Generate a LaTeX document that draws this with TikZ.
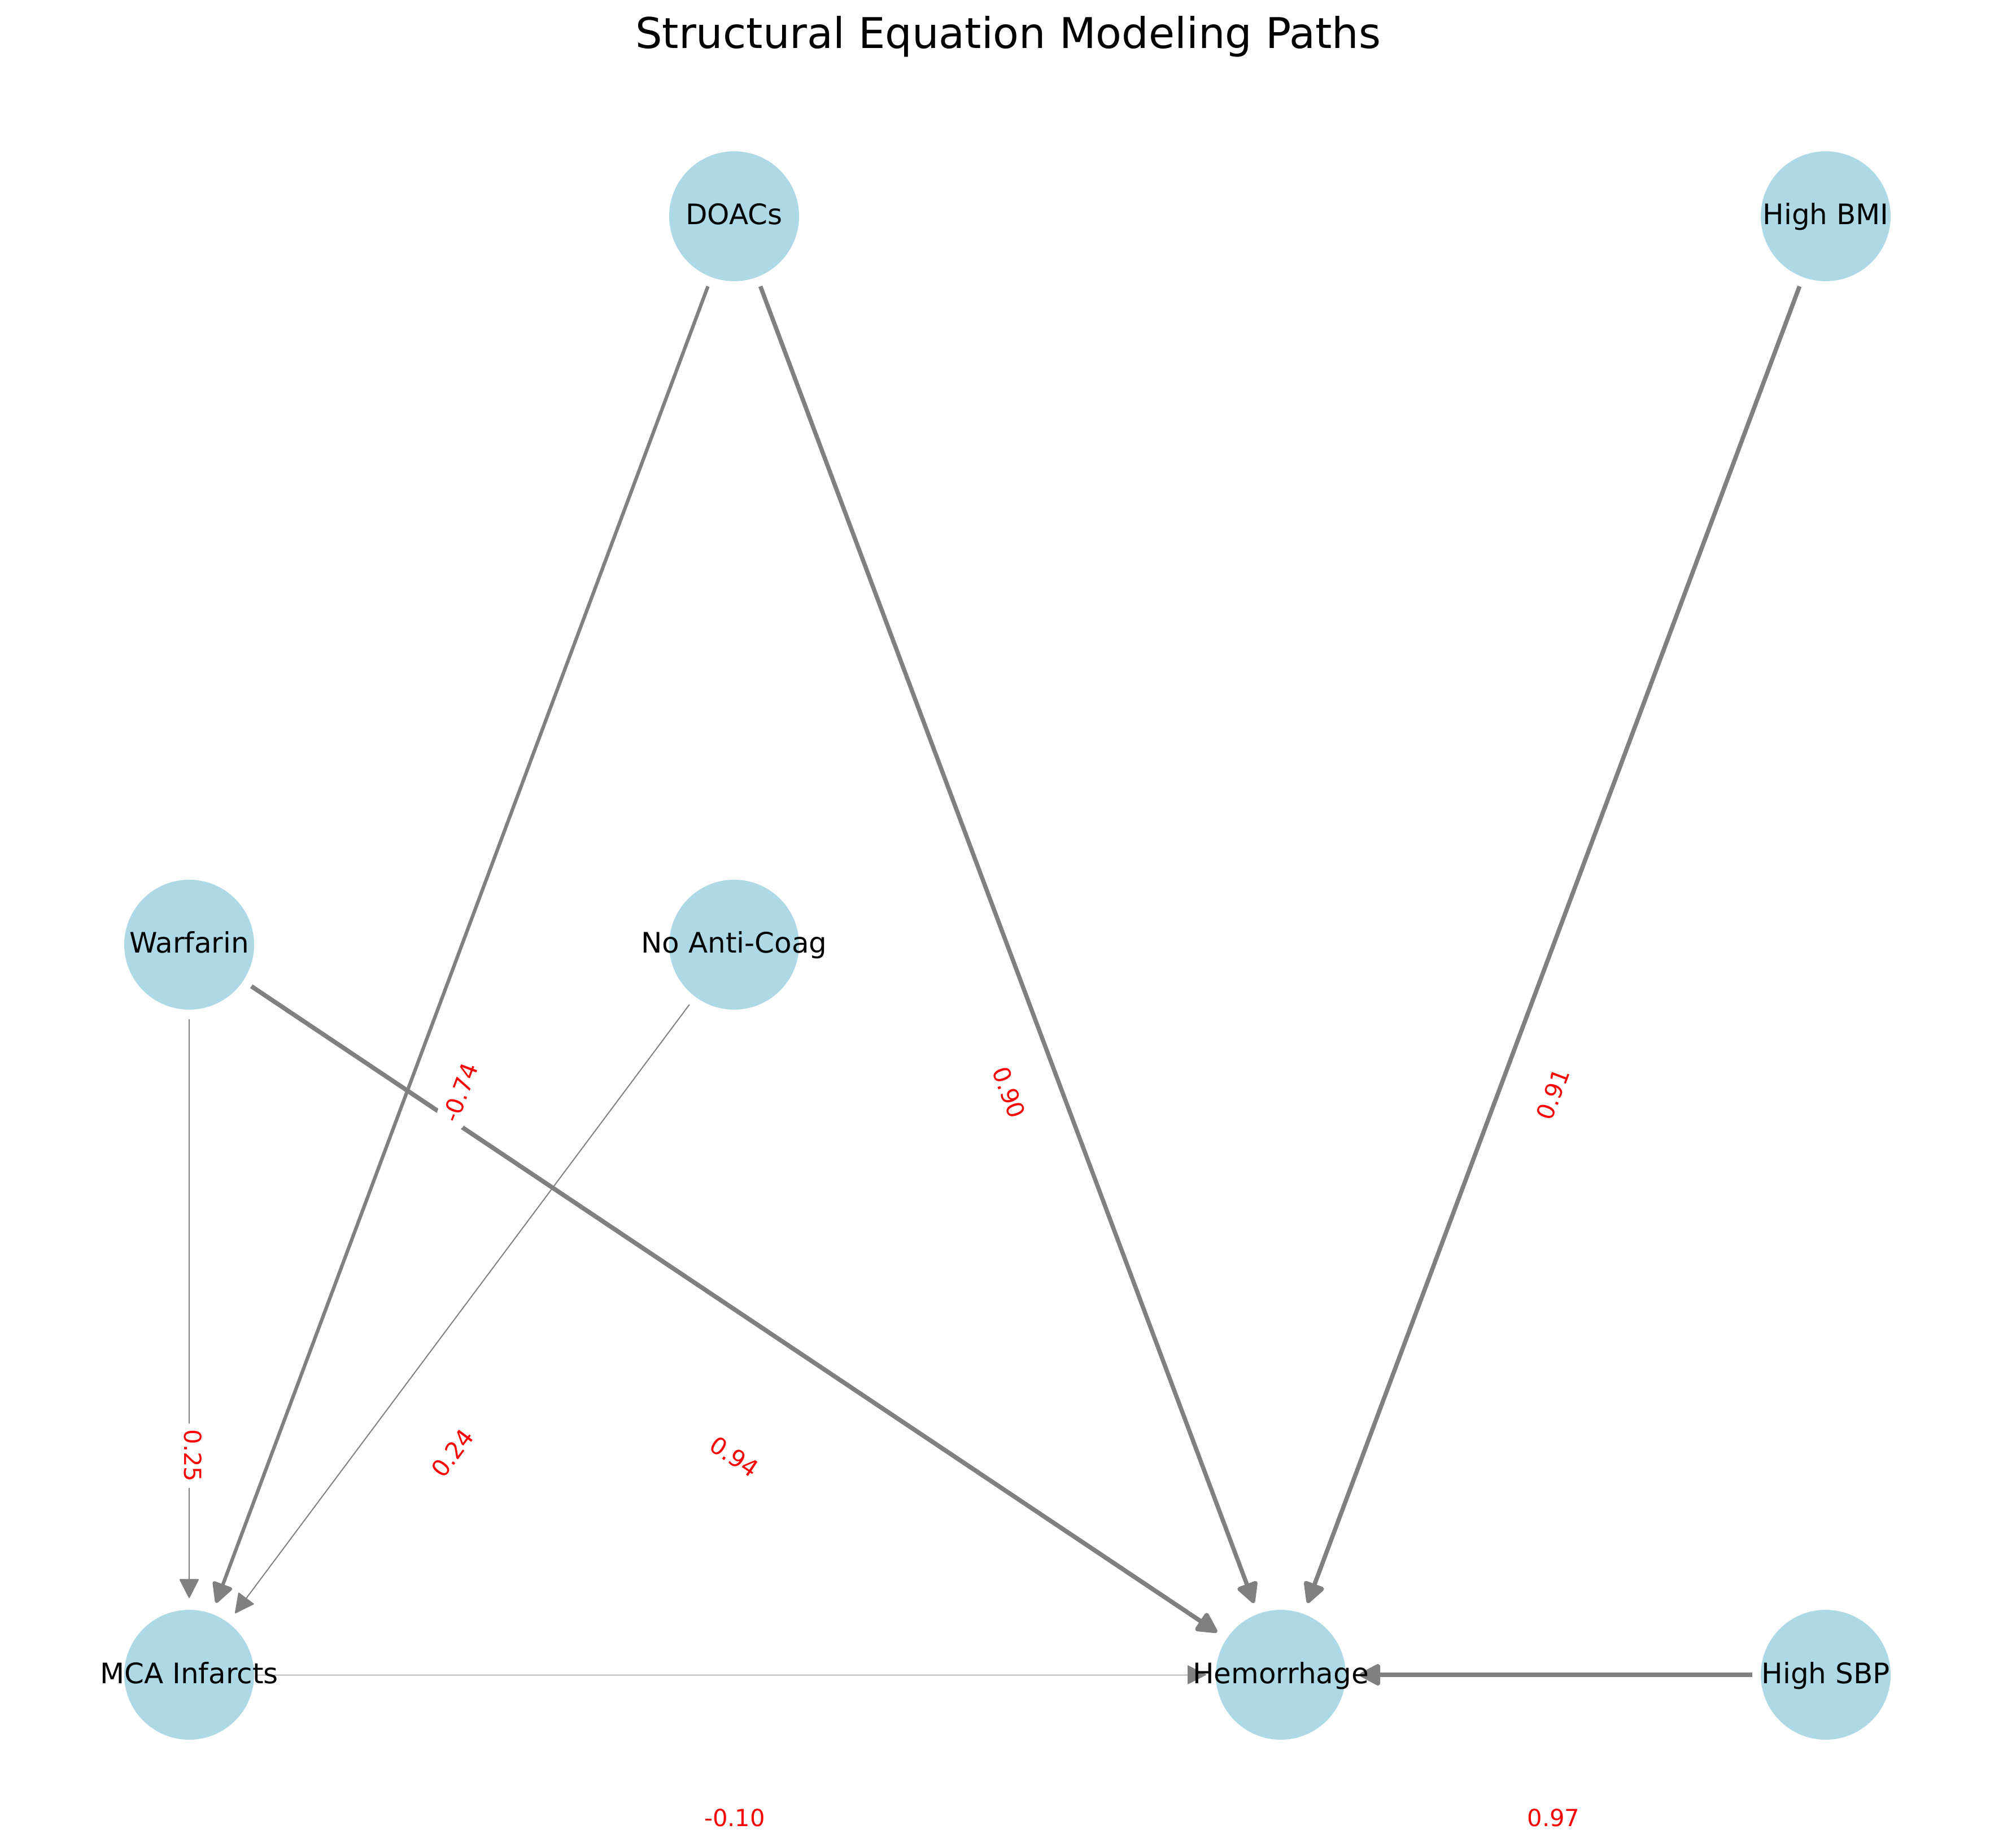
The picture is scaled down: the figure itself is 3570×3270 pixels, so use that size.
\documentclass[tikz,border=0pt]{standalone}
\usepackage{fontspec}
\setmainfont{DejaVu Sans}
\usetikzlibrary{arrows.meta}
\definecolor{nodeblue}{HTML}{ADD8E6}
\pgfdeclarelayer{edges}
\pgfsetlayers{edges,main}
\tikzset{
	var/.style = {circle, fill = nodeblue, minimum size = 55.2pt, inner sep = 0pt,
		label = {[font = \fontsize{12}{14}\selectfont, text height = 9.5pt, text depth = 2.3pt, inner sep = 0pt]center:#1}},
	link/.style = {draw = gray, line width = #1, -{Triangle[length = 7.9pt 1, width = 7.9pt 1, round]},
		shorten <= 4pt, shorten >= 4.8pt},
	coef/.style = {text = red, fill = white, rounded corners = 3pt, inner sep = 2.5pt,
		font = \fontsize{10}{12}\selectfont}
}
\begin{document}
\begin{tikzpicture}[x = 0.24pt, y = 0.24pt]
	\useasboundingbox (0,0) rectangle (3570,3270);
	\node [font = \fontsize{18}{22}\selectfont] (title) at (1785,3205) {Structural Equation Modeling Paths};
	% variables
	\node [var = DOACs] (doacs) at (1300,2887) {};
	\node [var = High BMI] (bmi) at (3233,2887) {};
	\node [var = Warfarin] (warf) at (335,1597) {};
	\node [var = No Anti-Coag] (noac) at (1300,1597) {};
	\node [var = MCA Infarcts] (mca) at (335,304) {};
	\node [var = Hemorrhage] (hem) at (2268,304) {};
	\node [var = High SBP] (sbp) at (3233,304) {};
	% paths and coefficients
	\begin{pgfonlayer}{edges}
	\fill [white] (0,0) rectangle (3570,3270);
	\foreach \a/\b/\w in {doacs/mca/1.48, doacs/hem/1.8, bmi/hem/1.82, warf/hem/1.88, warf/mca/0.5, noac/mca/0.48}
		\draw [link = \w pt] (\a) -- (\b);
	\draw [link = 0.2pt, shorten >= 3.8pt, shorten <= 0.5pt] (mca) -- (hem);
	\draw [link = 1.94pt, shorten >= 5.8pt, shorten <= 3.4pt] (sbp) -- (hem);
	\node [coef, rotate = 69.5] (c-doacs-mca) at (815,1335) {-0.74};
	\node [coef, rotate = -69.5] (c-doacs-hem) at (1787,1335) {0.90};
	\node [coef, rotate = 69.5] (c-bmi-hem) at (2750,1332) {0.91};
	\node [coef, rotate = -90] (c-warf-mca) at (342,692) {0.25};
	\node [coef, rotate = 53.3] (c-noac-mca) at (801,697) {0.24};
	\node [coef, rotate = -33.8] (c-warf-hem) at (1300,690) {0.94};
	\node [coef] (c-mca-hem) at (1301,51) {-0.10};
	\node [coef] (c-sbp-hem) at (2751,51) {0.97};
	\end{pgfonlayer}
\end{tikzpicture}
\end{document}
